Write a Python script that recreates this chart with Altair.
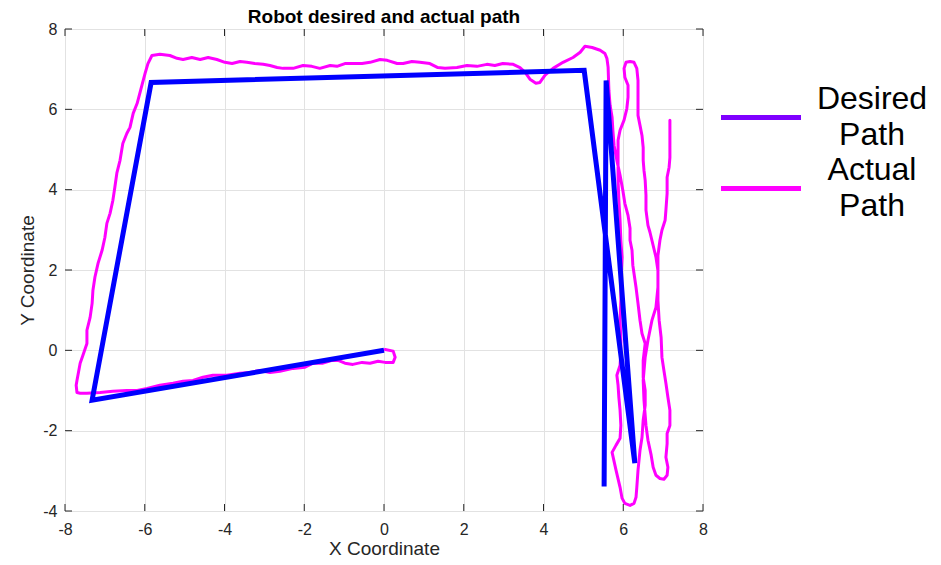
import altair as alt
import pandas as pd

FONT = "Liberation Sans"

# Desired path waypoints
desired_x = [0.0, -7.32, -5.84, 5.02, 6.29, 5.57, 5.52]
desired_y = [0.0, -1.24, 6.67, 6.97, -2.81, 6.72, -3.39]

# Actual (measured) robot path
actual_x = [
    0.03, 0.23, 0.28, 0.23, 0.03, -0.15, -0.35, -0.55, -0.78, -0.98, -1.15, -1.30,
    -1.53, -1.78, -1.98, -2.28, -2.61, -2.86, -3.11, -3.36, -3.61, -3.94, -4.29, -4.54,
    -4.79, -5.04, -5.29, -5.62, -5.94, -6.19, -6.45, -6.80, -7.12, -7.45, -7.62, -7.70,
    -7.72, -7.70, -7.62, -7.55, -7.45, -7.45, -7.37, -7.32, -7.30, -7.25, -7.17, -7.07,
    -7.00, -6.95, -6.87, -6.80, -6.75, -6.70, -6.62, -6.55, -6.45, -6.37, -6.29, -6.19,
    -6.07, -5.99, -5.92, -5.82, -5.62, -5.37, -5.19, -5.04, -4.82, -4.61, -4.41, -4.19,
    -3.99, -3.81, -3.61, -3.44, -3.24, -3.03, -2.86, -2.68, -2.53, -2.28, -2.03, -1.81,
    -1.61, -1.35, -1.18, -0.98, -0.78, -0.55, -0.35, -0.10, 0.08, 0.33, 0.48, 0.70,
    0.90, 1.15, 1.35, 1.53, 1.83, 2.08, 2.33, 2.58, 2.78, 2.98, 3.24, 3.41,
    3.54, 3.66, 3.81, 3.91, 4.04, 4.24, 4.49, 4.74, 4.92, 5.04, 5.22, 5.42,
    5.54, 5.59, 5.62,
    5.64, 5.67, 5.72, 5.74, 5.77, 5.84, 5.92, 5.99, 6.04, 6.12, 6.17, 6.17,
    6.22, 6.24, 6.32, 6.37, 6.42, 6.47, 6.55, 6.50, 6.50, 6.55, 6.55, 6.50,
    6.47, 6.42, 6.37, 6.34, 6.32, 6.27, 6.17, 6.04, 5.97, 5.92, 5.82, 5.72,
    5.82, 5.92, 5.94, 5.92, 5.89, 5.87, 5.84, 5.92, 5.94, 5.94, 5.92, 5.94,
    5.94, 5.97, 5.94, 5.92, 5.89, 5.87, 5.87, 5.87, 5.92, 6.02, 6.09, 6.12,
    6.12, 6.04, 6.02, 6.07, 6.17, 6.27, 6.34, 6.37, 6.37, 6.37, 6.42, 6.47,
    6.50, 6.50, 6.52, 6.55, 6.57, 6.57, 6.62, 6.67, 6.75, 6.82, 6.87, 6.87,
    6.82, 6.72, 6.62, 6.55, 6.50, 6.52, 6.57, 6.62, 6.70, 6.75, 6.82, 6.92,
    7.02, 7.10, 7.12, 7.07, 7.10, 7.10, 7.17, 7.17, 7.12, 7.07, 7.02, 6.97,
    6.95, 6.90, 6.87, 6.87, 6.87, 6.87, 6.92, 6.97, 7.05, 7.07, 7.10, 7.10,
    7.15, 7.17, 7.17, 7.17,
]
actual_y = [
    0.02, -0.02, -0.17, -0.30, -0.30, -0.27, -0.32, -0.30, -0.35, -0.32, -0.25, -0.25,
    -0.32, -0.32, -0.42, -0.45, -0.52, -0.55, -0.50, -0.55, -0.57, -0.62, -0.62, -0.67,
    -0.75, -0.77, -0.82, -0.87, -0.95, -1.00, -1.00, -1.02, -1.05, -1.07, -1.07, -1.05,
    -0.87, -0.75, -0.32, -0.12, 0.17, 0.50, 0.82, 1.17, 1.49, 1.82, 2.17, 2.49,
    2.81, 3.16, 3.41, 3.73, 4.06, 4.41, 4.73, 5.15, 5.40, 5.55, 5.90, 6.15,
    6.60, 6.90, 7.14, 7.34, 7.37, 7.34, 7.27, 7.24, 7.29, 7.24, 7.29, 7.24,
    7.17, 7.14, 7.19, 7.17, 7.14, 7.12, 7.09, 7.04, 7.02, 7.02, 7.09, 7.07,
    7.02, 7.09, 7.07, 7.14, 7.14, 7.14, 7.17, 7.24, 7.22, 7.14, 7.14, 7.19,
    7.17, 7.14, 7.04, 7.02, 7.04, 7.09, 7.07, 7.12, 7.09, 7.14, 7.12, 7.04,
    6.92, 6.75, 6.65, 6.67, 6.85, 7.02, 7.17, 7.29, 7.42, 7.57, 7.54, 7.47,
    7.39, 7.27, 7.05,
    6.47, 6.10, 5.80, 5.48, 5.10, 4.73, 4.36, 3.98, 3.66, 3.36, 3.04, 2.74,
    2.49, 2.12, 1.57, 1.17, 0.75, 0.42, 0.17, -0.25, -0.67, -1.00, -1.37, -1.74,
    -2.17, -2.49, -2.99, -3.41, -3.66, -3.81, -3.86, -3.81, -3.68, -3.41, -2.99, -2.54,
    -2.36, -2.19, -1.87, -1.49, -1.17, -0.87, -0.62, -0.37, -0.05, 0.25, 0.75, 1.24,
    1.74, 2.32, 2.74, 3.24, 3.73, 4.23, 4.73, 5.23, 5.48, 5.73, 6.02, 6.30,
    6.60, 6.80, 7.02, 7.17, 7.19, 7.17, 7.02, 6.72, 6.22, 5.85, 5.60, 5.35,
    5.05, 4.73, 4.48, 4.23, 3.86, 3.49, 3.11, 2.94, 2.61, 2.32, 1.99, 1.57,
    1.07, 0.75, 0.25, -0.17, -0.75, -1.24, -1.87, -2.24, -2.61, -2.91, -3.11, -3.19,
    -3.21, -3.11, -2.91, -2.66, -2.32, -2.07, -1.87, -1.49, -1.17, -0.82, -0.50, -0.17,
    0.32, 0.75, 1.24, 1.62, 1.99, 2.36, 2.74, 2.99, 3.24, 3.49, 3.91, 4.31,
    4.56, 4.80, 5.23, 5.73,
]

series_names = ["Desired Path", "Actual Path"]
legend_colors = ["#7F00FF", "#FF00FF"]
desired_color = "#0000FF"

x_ticks = [-8, -6, -4, -2, 0, 2, 4, 6, 8]
y_ticks = [-4, -2, 0, 2, 4, 6, 8]

W, H = 638, 482
TICK = 7
AX = "#262626"

df_des = pd.DataFrame({"x": desired_x, "y": desired_y,
                       "i": list(range(len(desired_x))), "series": series_names[0]})
df_act = pd.DataFrame({"x": actual_x, "y": actual_y,
                       "i": list(range(len(actual_x))), "series": series_names[1]})
df_xt = pd.DataFrame({"v": x_ticks})
df_yt = pd.DataFrame({"v": y_ticks})

xs = alt.Scale(domain=[-8, 8], nice=False, zero=False)
ys = alt.Scale(domain=[-4, 8], nice=False, zero=False)

common_axis = dict(grid=True, ticks=False, domain=False, gridColor="#e2e2e2", gridWidth=1,
                   labelFont=FONT, labelFontSize=16, labelColor=AX,
                   labelExpr="'' + datum.value",
                   titleFont=FONT, titleFontSize=19, titleFontWeight="normal", titleColor=AX,
                   labelOverlap=False, labelFlush=False)
x_axis = alt.Axis(values=x_ticks, title="X Coordinate", labelPadding=10, titlePadding=2,
                  **common_axis)
y_axis = alt.Axis(values=y_ticks, title="Y Coordinate", labelPadding=8, titlePadding=5,
                  **common_axis)

actual = alt.Chart(df_act).mark_line(strokeWidth=3, strokeJoin="round", strokeCap="round").encode(
    x=alt.X("x:Q", scale=xs, axis=x_axis),
    y=alt.Y("y:Q", scale=ys, axis=y_axis),
    order="i:Q",
    color=alt.Color("series:N",
                    scale=alt.Scale(domain=series_names, range=legend_colors),
                    legend=alt.Legend(
                        title=None, orient="none", legendX=680, legendY=54,
                        symbolType="M-8,3.7H8", symbolSize=100, symbolStrokeWidth=5,
                        symbolFillColor="transparent",
                        labelFont=FONT, labelFontSize=32, labelColor="black",
                        labelExpr="datum.label == 'Desired Path' ? ['Desired', 'Path'] : ['Actual', 'Path']",
                        labelAlign="center", labelOffset=95, labelLimit=400,
                        rowPadding=3, padding=0)),
)

desired = alt.Chart(df_des).mark_line(strokeWidth=5, strokeJoin="miter", color=desired_color).encode(
    x=alt.X("x:Q", scale=xs, axis=x_axis),
    y=alt.Y("y:Q", scale=ys, axis=y_axis),
    order="i:Q",
)

tick_style = dict(color=AX, strokeWidth=1)
tb = alt.Chart(df_xt).mark_rule(**tick_style).encode(
    x=alt.X("v:Q", scale=xs, axis=x_axis), y=alt.value(H), y2=alt.value(H - TICK))
tt = alt.Chart(df_xt).mark_rule(**tick_style).encode(
    x=alt.X("v:Q", scale=xs, axis=x_axis), y=alt.value(0), y2=alt.value(TICK))
tl = alt.Chart(df_yt).mark_rule(**tick_style).encode(
    y=alt.Y("v:Q", scale=ys, axis=y_axis), x=alt.value(0), x2=alt.value(TICK))
tr = alt.Chart(df_yt).mark_rule(**tick_style).encode(
    y=alt.Y("v:Q", scale=ys, axis=y_axis), x=alt.value(W), x2=alt.value(W - TICK))

chart = alt.layer(actual, desired, tb, tt, tl, tr).properties(
    width=W, height=H,
    title=alt.TitleParams("Robot desired and actual path", font=FONT, fontSize=19,
                          fontWeight="bold", color="black", offset=-6, anchor="middle"),
    padding={"left": 57, "top": 21, "right": 230, "bottom": 46},
    autosize=alt.AutoSizeParams(type="none"),
).configure_view(stroke=AX, strokeWidth=1).configure(
    background="white", style={"guide-label": {"lineHeight": 36}})

chart.save("out.html", embed_options={"renderer": "svg", "actions": False})
